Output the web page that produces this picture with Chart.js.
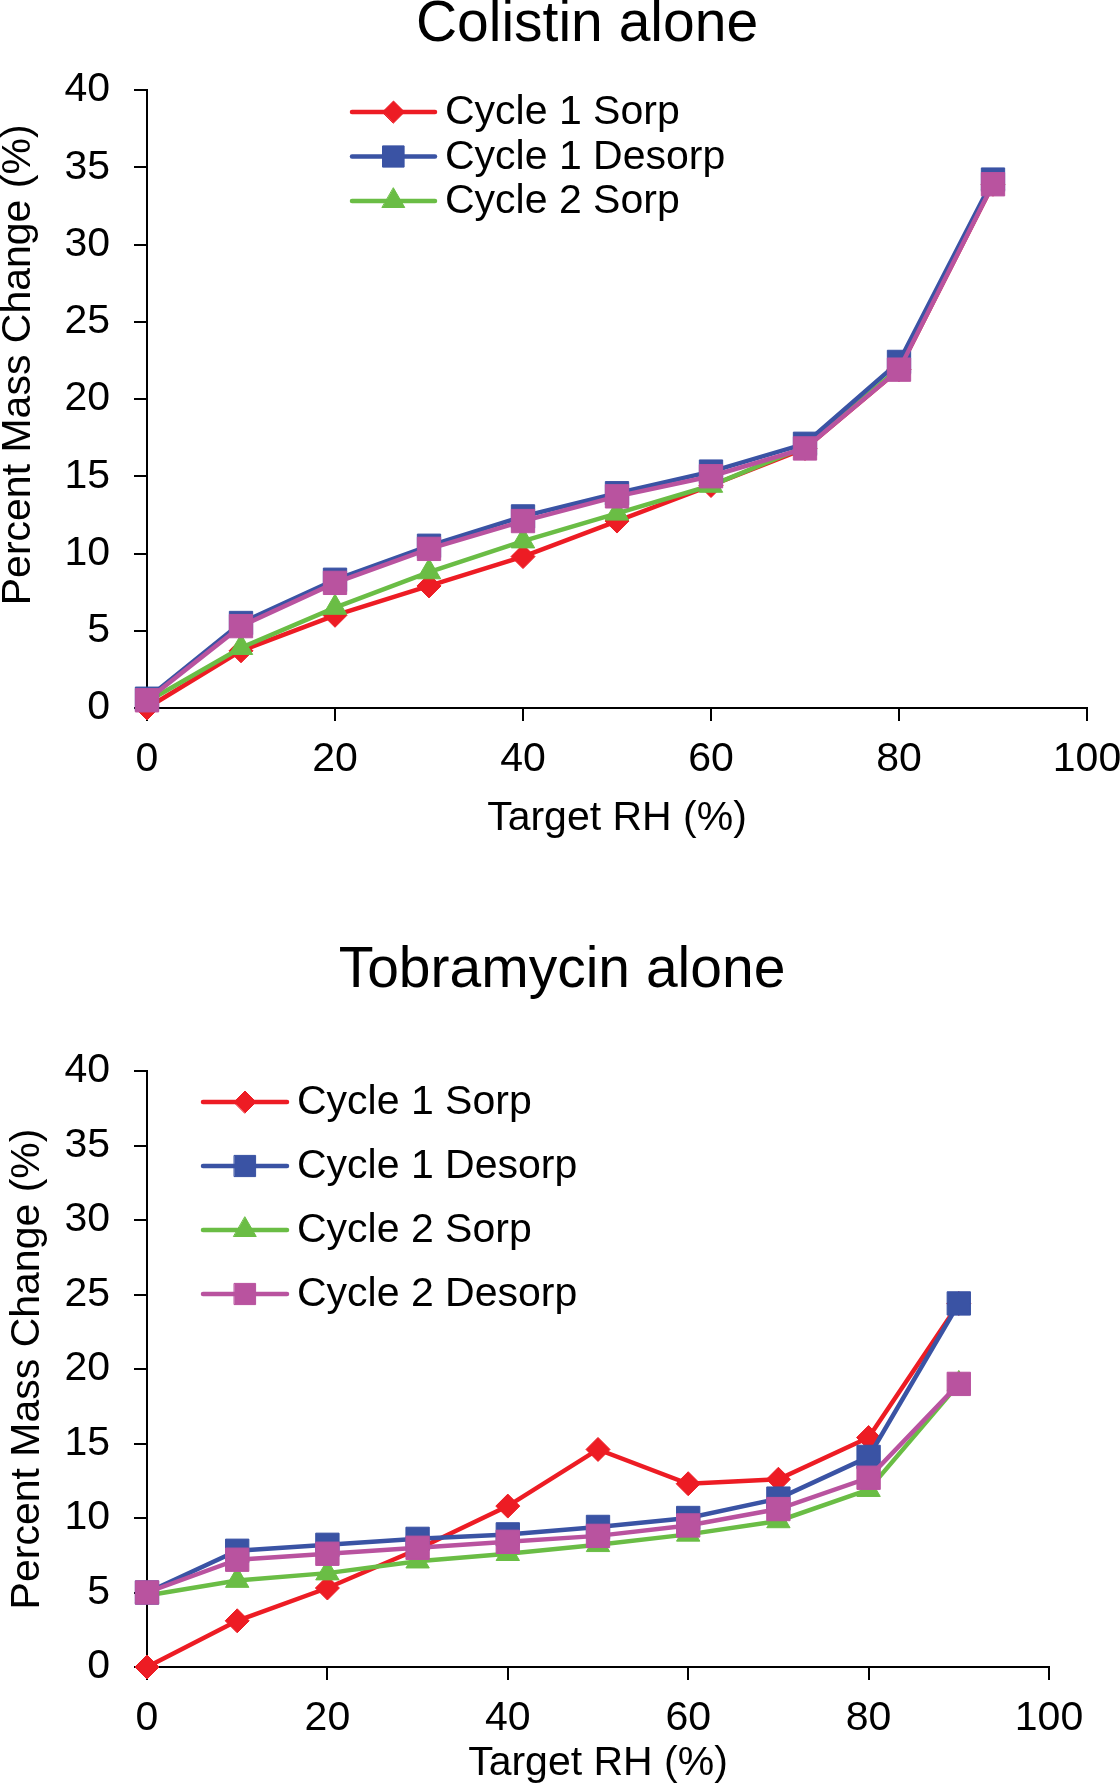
<!DOCTYPE html>
<html>
<head>
<meta charset="utf-8">
<script src="https://cdn.jsdelivr.net/npm/chart.js@4.4.0/dist/chart.umd.min.js"></script>
<style>
html,body{margin:0;padding:0;background:#fff;}
.box{position:absolute;left:0;}
canvas{display:block;}
</style>
</head>
<body>
<div class="box" style="top:0px"><canvas id="c1" width="1120" height="860"></canvas></div>
<div class="box" style="top:860px"><canvas id="c2" width="1120" height="925"></canvas></div>
<script>
// ---------- data ----------
const targetRH = [0, 10, 20, 30, 40, 50, 60, 70, 80, 90];
const seriesNames = ['Cycle 1 Sorp', 'Cycle 1 Desorp', 'Cycle 2 Sorp', 'Cycle 2 Desorp'];
const chartTitles = ['Colistin alone', 'Tobramycin alone'];
const xAxisTitle = 'Target RH (%)';
const yAxisTitle = 'Percent Mass Change (%)';
const xTickValues = [0, 20, 40, 60, 80, 100];
const yTickValues = [0, 5, 10, 15, 20, 25, 30, 35, 40];

const colistinC1Sorp   = [0.0, 3.7, 6.0, 7.9, 9.8, 12.1, 14.4, 16.8, 21.9, 33.9];
const colistinC1Desorp = [0.6, 5.5, 8.3, 10.5, 12.4, 13.9, 15.3, 17.1, 22.4, 34.2];
const colistinC2Sorp   = [0.4, 3.9, 6.5, 8.8, 10.8, 12.6, 14.4, 16.9, 22.0, 34.0];
const colistinC2Desorp = [0.5, 5.3, 8.1, 10.3, 12.1, 13.7, 15.0, 16.8, 21.9, 33.9];

const tobraC1Sorp   = [0.0, 3.1, 5.3, 7.9, 10.8, 14.6, 12.3, 12.6, 15.4, 24.4];
const tobraC1Desorp = [5.0, 7.8, 8.2, 8.6, 8.9, 9.4, 10.0, 11.3, 14.1, 24.4];
const tobraC2Sorp   = [4.8, 5.8, 6.3, 7.1, 7.6, 8.2, 8.9, 9.8, 11.9, 19.0];
const tobraC2Desorp = [5.0, 7.2, 7.6, 8.0, 8.4, 8.8, 9.5, 10.6, 12.7, 19.0];

// ---------- styles ----------
const FONT = '"Liberation Sans", Arial, Helvetica, sans-serif';
const styles = [
  {color: '#ED1C24', pointStyle: 'rectRot', radius: 12, legendRadius: 11, order: 4},
  {color: '#3A53A4', pointStyle: 'rect', radius: 16.5, legendRadius: 15, order: 2},
  {color: '#6ABD45', pointStyle: 'triangle', radius: 13.5, legendRadius: 13, order: 3},
  {color: '#B9539F', pointStyle: 'rect', radius: 16.5, legendRadius: 15, order: 1}
];

function makeDatasets(seriesList) {
  return seriesList.map((vals, i) => ({
    label: seriesNames[i],
    data: targetRH.map((x, j) => ({x: x, y: vals[j]})),
    borderColor: styles[i].color,
    backgroundColor: styles[i].color,
    pointBackgroundColor: styles[i].color,
    pointBorderColor: styles[i].color,
    pointBorderWidth: 1,
    pointStyle: styles[i].pointStyle,
    pointRadius: styles[i].radius,
    pointHoverRadius: styles[i].radius,
    legendRadius: styles[i].legendRadius,
    borderWidth: 4.5,
    tension: 0,
    fill: false,
    clip: false,
    order: styles[i].order
  }));
}

function drawMarker(ctx, style, x, y, r, color) {
  ctx.fillStyle = color;
  ctx.strokeStyle = color;
  ctx.lineWidth = 1;
  ctx.beginPath();
  if (style === 'rectRot') {
    ctx.moveTo(x - r, y); ctx.lineTo(x, y - r); ctx.lineTo(x + r, y); ctx.lineTo(x, y + r);
  } else if (style === 'triangle') {
    const a = Math.PI * 2 / 3;
    ctx.moveTo(x, y - r);
    ctx.lineTo(x + Math.sin(a) * r, y - Math.cos(a) * r);
    ctx.lineTo(x + Math.sin(2 * a) * r, y - Math.cos(2 * a) * r);
  } else {
    const s = r * Math.SQRT1_2;
    ctx.rect(x - s, y - s, 2 * s, 2 * s);
  }
  ctx.closePath();
  ctx.fill();
  ctx.stroke();
}

const inlineLegend = {
  id: 'inlineLegend',
  afterDatasetsDraw(chart, args, opts) {
    const ctx = chart.ctx;
    ctx.save();
    opts.items.forEach((dsIndex, i) => {
      const ds = chart.data.datasets[dsIndex];
      const y = opts.y + i * opts.rowGap;
      ctx.lineCap = 'round';
      ctx.strokeStyle = ds.borderColor;
      ctx.lineWidth = ds.borderWidth;
      ctx.beginPath();
      ctx.moveTo(opts.x0, y);
      ctx.lineTo(opts.x1, y);
      ctx.stroke();
      drawMarker(ctx, ds.pointStyle, (opts.x0 + opts.x1) / 2, y, ds.legendRadius, ds.borderColor);
      ctx.fillStyle = '#000';
      ctx.font = opts.fontSize + 'px ' + FONT;
      ctx.textAlign = 'left';
      ctx.textBaseline = 'middle';
      ctx.fillText(ds.label, opts.textX, y + 1);
    });
    ctx.restore();
  }
};

const titlePos = {
  id: 'titlePos',
  afterLayout(chart, args, opts) {
    const t = chart.titleBlock;
    if (t) { t.left = opts.cx - 500; t.right = opts.cx + 500; }
  }
};

function makeChart(canvasId, title, datasets, cfg) {
  return new Chart(document.getElementById(canvasId), {
    type: 'line',
    data: {datasets: datasets},
    plugins: [inlineLegend, titlePos],
    options: {
      responsive: false,
      animation: false,
      devicePixelRatio: 1,
      layout: {padding: {left: 0, right: cfg.padRight, top: 0, bottom: 0}},
      plugins: {
        legend: {display: false},
        tooltip: {enabled: false},
        title: {
          display: true,
          text: title,
          color: '#000',
          font: {family: FONT, size: 57, weight: 'normal', lineHeight: 1},
          padding: {top: cfg.titlePadTop, bottom: cfg.titlePadBottom}
        },
        titlePos: {cx: cfg.titleCx},
        inlineLegend: cfg.legend
      },
      scales: {
        x: {
          type: 'linear',
          min: xTickValues[0],
          max: xTickValues[xTickValues.length - 1],
          afterFit(scale) { scale.height = cfg.xHeight; scale.paddingLeft = 0; scale.paddingRight = 0; },
          afterBuildTicks(scale) { scale.ticks = xTickValues.map(v => ({value: v})); },
          ticks: {color: '#000', font: {family: FONT, size: 41}, padding: 14, maxRotation: 0},
          grid: {display: true, drawOnChartArea: false, drawTicks: true, tickLength: 13, color: '#000', lineWidth: 2},
          border: {display: true, color: '#000', width: 2},
          title: {display: true, text: xAxisTitle, color: '#000', font: {family: FONT, size: 41, lineHeight: 1.2}, padding: {top: 0, bottom: cfg.xTitlePadBottom}}
        },
        y: {
          type: 'linear',
          min: yTickValues[0],
          max: yTickValues[yTickValues.length - 1],
          afterFit(scale) { scale.width = 147; },
          afterBuildTicks(scale) { scale.ticks = yTickValues.map(v => ({value: v})); },
          ticks: {color: '#000', font: {family: FONT, size: 41}, padding: 24},
          grid: {display: true, drawOnChartArea: false, drawTicks: true, tickLength: 13, color: '#000', lineWidth: 2},
          border: {display: true, color: '#000', width: 2},
          title: {display: true, text: cfg.yTitleText, color: '#000', font: {family: FONT, size: 41, lineHeight: cfg.yTitleLH}, padding: {top: cfg.yTitlePad, bottom: 0}}
        }
      }
    }
  });
}

makeChart('c1', chartTitles[0],
  makeDatasets([colistinC1Sorp, colistinC1Desorp, colistinC2Sorp, colistinC2Desorp]),
  {padRight: 33, titlePadTop: -3, titlePadBottom: 36, titleCx: 587, xHeight: 152, xTitlePadBottom: 17,
   yTitleLH: 0.9, yTitlePad: 0, yTitleText: '\u00a0\u00a0\u00a0\u00a0\u00a0\u00a0' + yAxisTitle,
   legend: {items: [0, 1, 2], x0: 352, x1: 435, textX: 445, y: 112, rowGap: 44.5, fontSize: 41}});

makeChart('c2', chartTitles[1],
  makeDatasets([tobraC1Sorp, tobraC1Desorp, tobraC2Sorp, tobraC2Desorp]),
  {padRight: 71, titlePadTop: 83, titlePadBottom: 71, titleCx: 562, xHeight: 118, xTitlePadBottom: -3,
   yTitleLH: 1.2, yTitlePad: 3, yTitleText: yAxisTitle,
   legend: {items: [0, 1, 2, 3], x0: 203, x1: 287, textX: 297, y: 242, rowGap: 64, fontSize: 41}});
</script>
</body>
</html>
